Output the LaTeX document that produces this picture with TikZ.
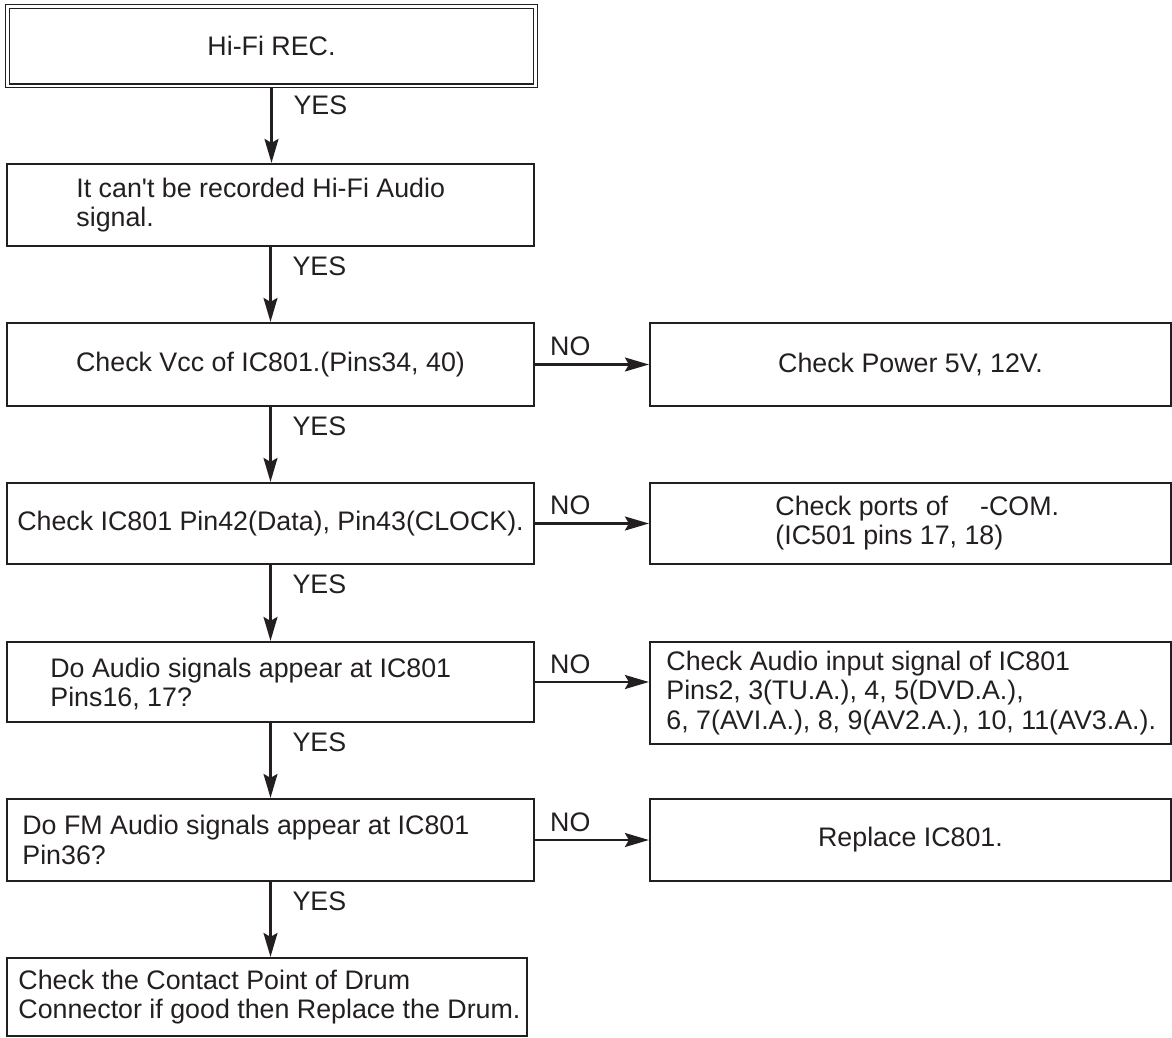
\documentclass[tikz,border=0pt]{standalone}
\usepackage{fontspec}
\setmainfont{Liberation Sans}
\usetikzlibrary{arrows.meta,fit}
\definecolor{ink}{HTML}{231F20}
\begin{document}
\begin{tikzpicture}[x=0.5pt,y=-0.5pt,
  box/.style={draw=ink, line width=1.1pt, inner sep=0pt},
  txt/.style={text=ink, font=\fontsize{13.4}{14.6}\selectfont, align=left, inner sep=0pt},
  arr/.style={draw=ink, line width=1.1pt, -{Stealth[length=12pt,width=7pt,inset=2pt]}},
  yes/.style={txt, anchor=west, pos=0.25, xshift=10.5pt},
  no/.style={txt, anchor=base west, pos=0, xshift=7pt, yshift=4.5pt}]
\useasboundingbox (0,0) rectangle (1172,1038);
% left column
\node[box, double=white, double distance=1.2pt, line width=0.65pt, fit={(7.5,6.5)(535.5,86)}] (b1) {};
\node[box, fit={(7,164)(534,246)}] (b2) {};
\node[box, fit={(7,323)(534,406)}] (b3) {};
\node[box, fit={(7,483)(534,564)}] (b4) {};
\node[box, fit={(7,642)(534,722)}] (b5) {};
\node[box, fit={(7,799)(534,881)}] (b6) {};
\node[box, fit={(7,958)(527,1036)}] (b7) {};
% right column
\node[box, fit={(650,323)(1171,406)}] (r3) {};
\node[box, fit={(650,483)(1171,564)}] (r4) {};
\node[box, fit={(650,642)(1171,744)}] (r5) {};
\node[box, fit={(650,799)(1171,881)}] (r6) {};
% texts
\node[txt] (t1) at (b1) {Hi-Fi REC.};
\node[txt, anchor=west] (t2) at (76,205) {It can\textquotesingle t be recorded Hi-Fi Audio\\signal.};
\node[txt] (t3) at (b3) {Check Vcc of IC801.(Pins34, 40)};
\node[txt] (t4) at (b4) {Check IC801 Pin42(Data), Pin43(CLOCK).};
\node[txt, anchor=west] (t5) at (50,684) {Do Audio signals appear at IC801\\Pins16, 17?};
\node[txt, anchor=west] (t6) at (22,840) {Do FM Audio signals appear at IC801\\Pin36?};
\node[txt, anchor=west] (t7) at (18,997) {Check the Contact Point of Drum\\Connector if good then Replace the Drum.};
\node[txt] (u3) at (r3) {Check Power 5V, 12V.};
\node[txt, anchor=west] (u4) at (775,523) {Check ports of\hspace{16pt}-COM.\\(IC501 pins 17, 18)};
\node[txt, anchor=west] (u5) at (666,693) {Check Audio input signal of IC801\\Pins2, 3(TU.A.), 4, 5(DVD.A.),\\6, 7(AVI.A.), 8, 9(AV2.A.), 10, 11(AV3.A.).};
\node[txt] (u6) at (r6) {Replace IC801.};
% YES connectors
\draw[arr] (b1.south) -- node[yes] {YES} (b1.south |- b2.north);
\draw[arr] (b2.south) -- node[yes] {YES} (b3.north);
\draw[arr] (b3.south) -- node[yes] {YES} (b4.north);
\draw[arr] (b4.south) -- node[yes] {YES} (b5.north);
\draw[arr] (b5.south) -- node[yes] {YES} (b6.north);
\draw[arr] (b6.south) -- node[yes] {YES} (b6.south |- b7.north);
% NO connectors
\draw[arr] (b3.east) -- node[no] {NO} (r3.west);
\draw[arr] (b4.east) -- node[no] {NO} (r4.west);
\draw[arr] (b5.east) -- node[no] {NO} (b5.east -| r5.west);
\draw[arr] (b6.east) -- node[no] {NO} (r6.west);
\end{tikzpicture}
\end{document}
